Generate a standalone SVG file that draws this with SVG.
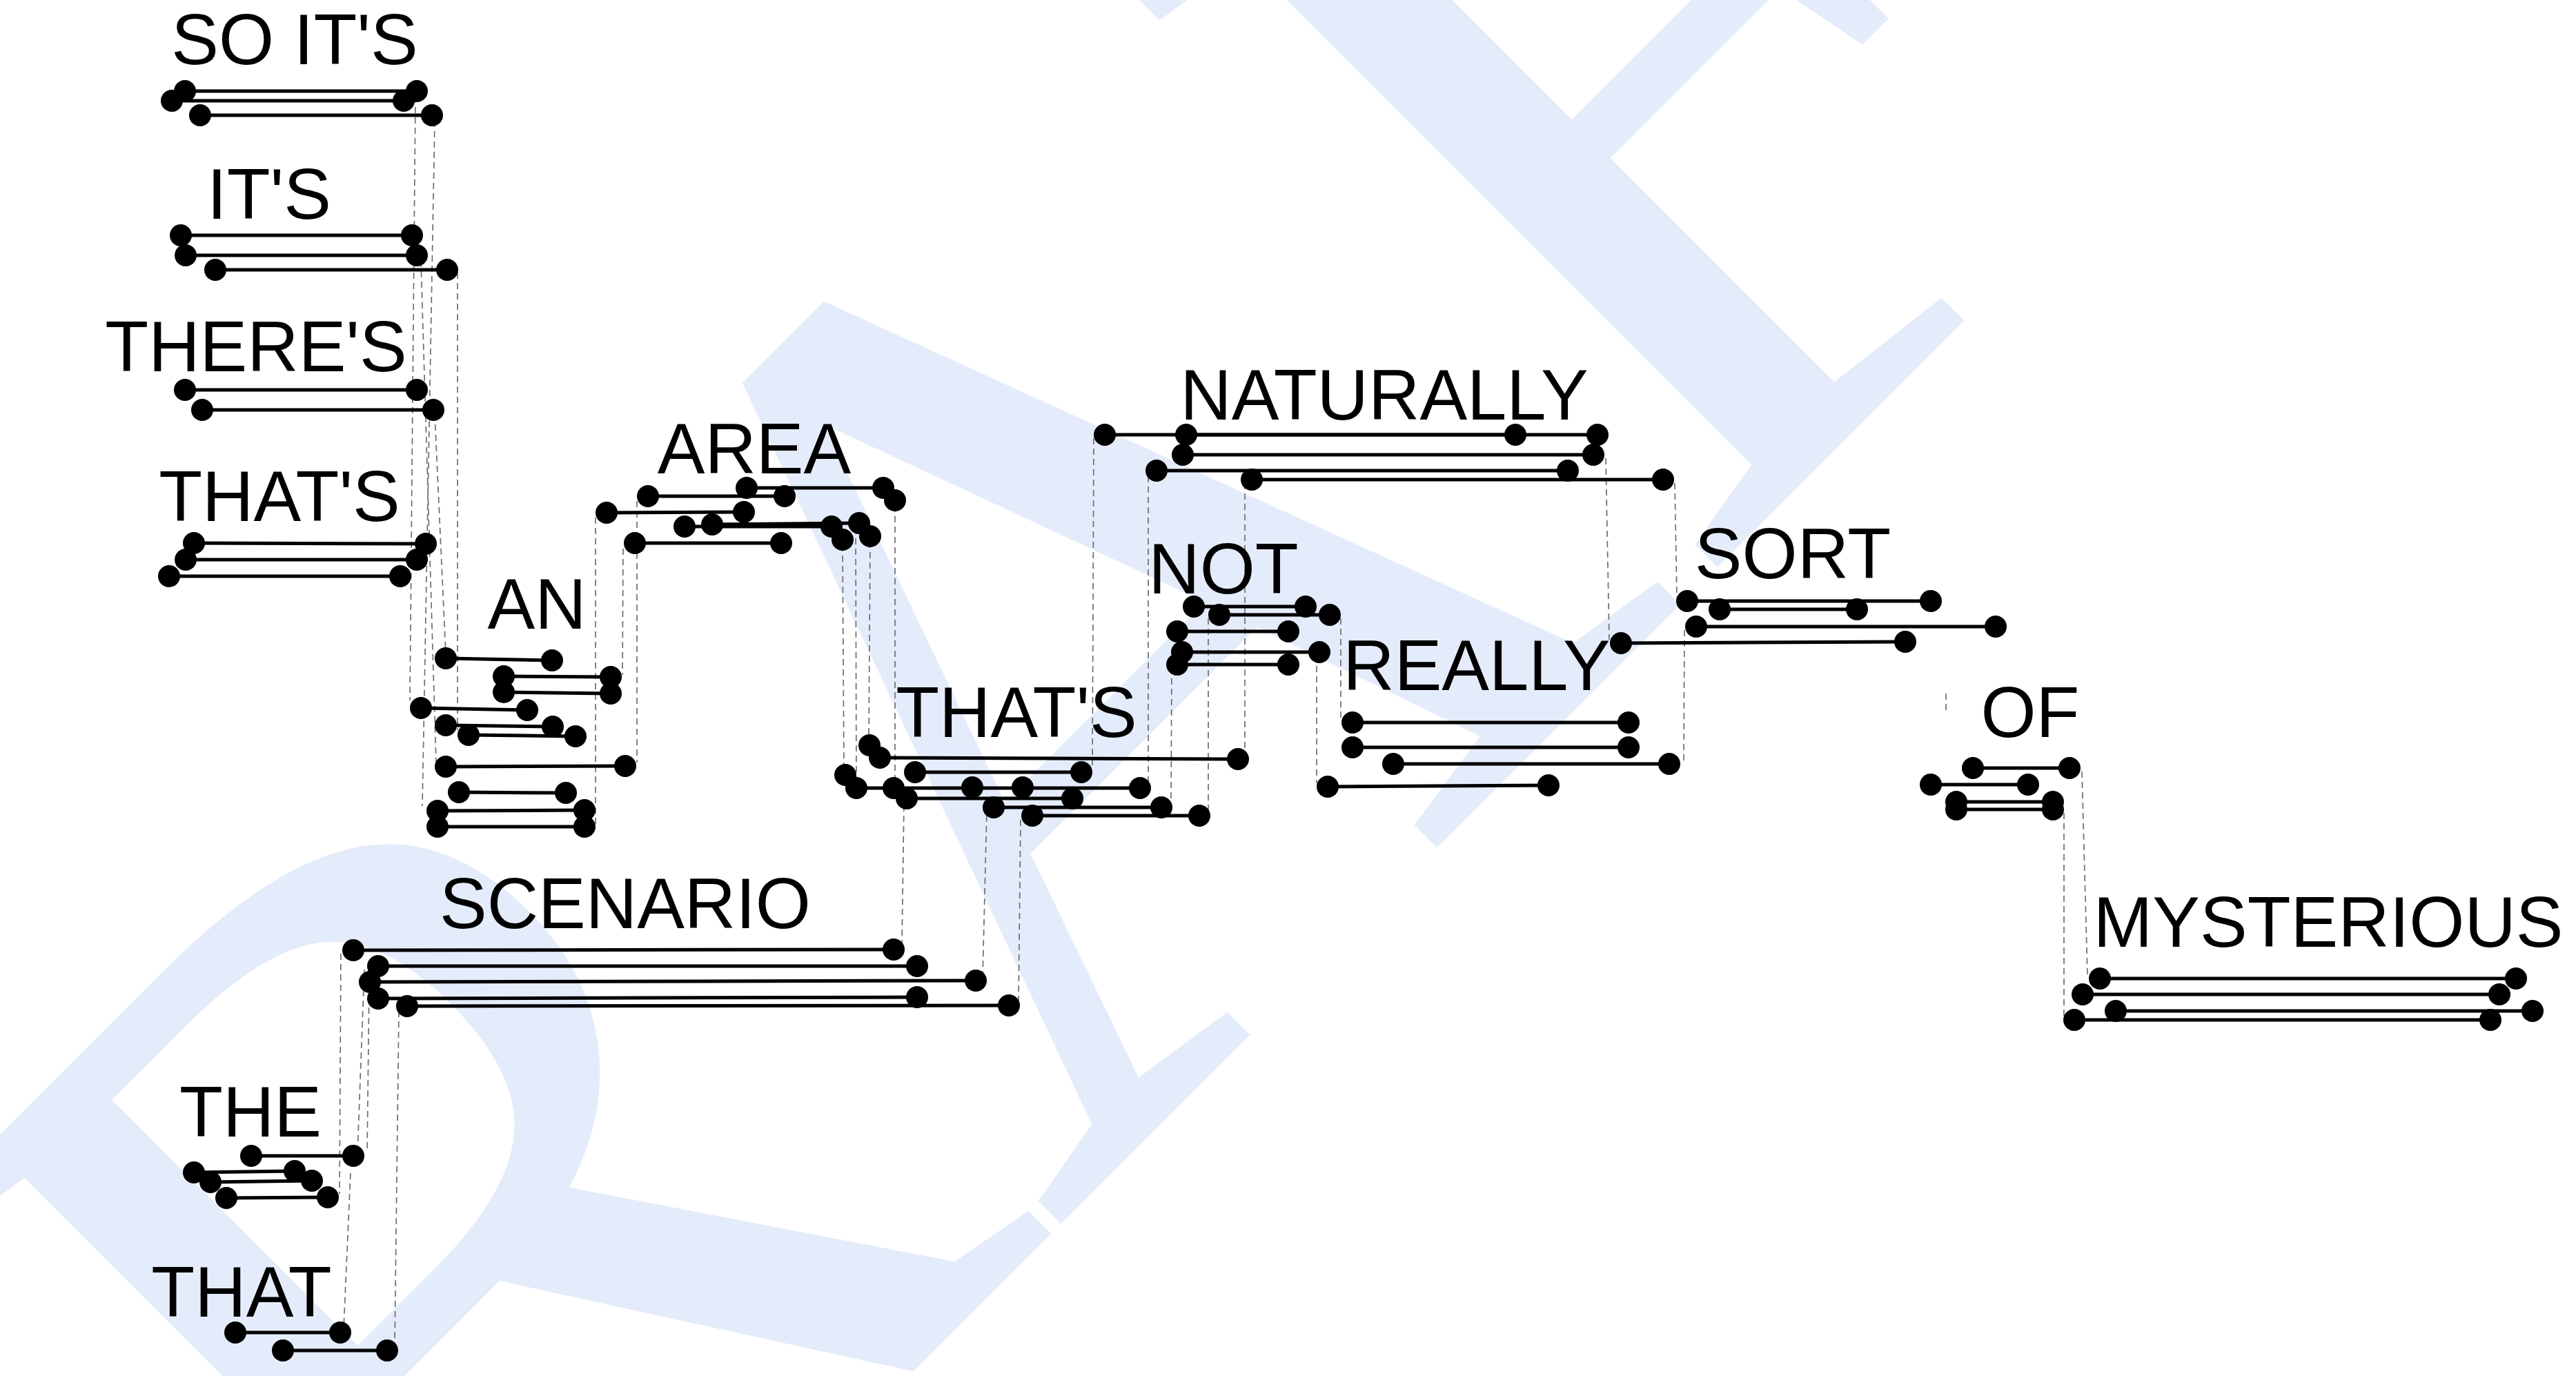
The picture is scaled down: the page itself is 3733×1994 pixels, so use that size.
<svg xmlns="http://www.w3.org/2000/svg" width="3733" height="1994" viewBox="0 0 3733 1994">
<style>
.wm{font-family:"Liberation Serif","Times New Roman",serif;font-size:1800px;fill:#e4ecfb}
.lbl{font-family:"Liberation Sans",Arial,sans-serif;font-size:103px;fill:#000;text-anchor:middle}
.bar{stroke:#000;stroke-width:5;fill:none;marker-start:url(#dot);marker-end:url(#dot)}
.pt{fill:#000}
.conn line{stroke:#6e6e6e;stroke-width:1.7;stroke-dasharray:9 6;fill:none}
</style>
<defs>
<marker id="dot" markerUnits="userSpaceOnUse" markerWidth="34" markerHeight="34" refX="17" refY="17" orient="0" overflow="visible">
<circle cx="17" cy="17" r="16" fill="#000"/>
</marker>
</defs>
<rect width="3733" height="1994" fill="#fff"/>
<text class="wm" transform="translate(-243 3554) rotate(-45)">DRAFT</text>

<g id="connectors" class="conn">
<line x1="602" y1="140" x2="594" y2="1015"/>
<line x1="630" y1="175" x2="612" y2="1168"/>
<line x1="663" y1="395" x2="663" y2="1058"/>
<line x1="610" y1="378" x2="632" y2="1105"/>
<line x1="630" y1="600" x2="646" y2="948"/>
<line x1="863" y1="750" x2="863" y2="1195"/>
<line x1="903" y1="795" x2="902" y2="978"/>
<line x1="923" y1="726" x2="923" y2="1105"/>
<line x1="1221" y1="790" x2="1223" y2="1118"/>
<line x1="1240" y1="765" x2="1241" y2="1137"/>
<line x1="1261" y1="785" x2="1259" y2="1075"/>
<line x1="1297" y1="733" x2="1297" y2="1138"/>
<line x1="1307" y1="1371" x2="1310" y2="1162"/>
<line x1="1424" y1="1416" x2="1430" y2="1175"/>
<line x1="1476" y1="1452" x2="1479" y2="1187"/>
<line x1="1585" y1="635" x2="1583" y2="1115"/>
<line x1="1664" y1="690" x2="1664" y2="1137"/>
<line x1="1804" y1="700" x2="1804" y2="1095"/>
<line x1="1698" y1="968" x2="1697" y2="1165"/>
<line x1="1751" y1="896" x2="1751" y2="1177"/>
<line x1="2327" y1="664" x2="2332" y2="927"/>
<line x1="2427" y1="700" x2="2430" y2="866"/>
<line x1="1943" y1="896" x2="1943" y2="1042"/>
<line x1="1908" y1="950" x2="1908" y2="1135"/>
<line x1="2441" y1="913" x2="2440" y2="1102"/>
<line x1="2820" y1="1005" x2="2820" y2="1035"/>
<line x1="2991" y1="1178" x2="2991" y2="1473"/>
<line x1="3017" y1="1118" x2="3025" y2="1413"/>
<line x1="494" y1="1382" x2="492" y2="1730"/>
<line x1="528" y1="1405" x2="518" y2="1672"/>
<line x1="535" y1="1430" x2="532" y2="1670"/>
<line x1="508" y1="1700" x2="498" y2="1926"/>
<line x1="578" y1="1465" x2="572" y2="1950"/>
</g>

<g id="w-so-its">
<text class="lbl" x="427" y="93">SO IT'S</text>
<line class="bar" x1="268" y1="132" x2="604" y2="132"/>
<line class="bar" x1="249" y1="146" x2="585" y2="146"/>
<line class="bar" x1="290" y1="167" x2="626" y2="167"/>
</g>
<g id="w-its">
<text class="lbl" x="390" y="317">IT'S</text>
<line class="bar" x1="262" y1="341" x2="597" y2="341"/>
<line class="bar" x1="269" y1="370" x2="604" y2="370"/>
<line class="bar" x1="312" y1="391" x2="648" y2="391"/>
</g>
<g id="w-theres">
<text class="lbl" x="371" y="538">THERE'S</text>
<line class="bar" x1="268" y1="565" x2="604" y2="565"/>
<line class="bar" x1="293" y1="594" x2="628" y2="594"/>
</g>
<g id="w-thats-1">
<text class="lbl" x="405" y="755">THAT'S</text>
<line class="bar" x1="281" y1="787" x2="617" y2="788"/>
<line class="bar" x1="269" y1="811" x2="604" y2="811"/>
<line class="bar" x1="245" y1="835" x2="580" y2="835"/>
</g>
<g id="w-an">
<text class="lbl" x="778" y="911">AN</text>
<line class="bar" x1="646" y1="954" x2="800" y2="957"/>
<line class="bar" x1="730" y1="980" x2="885" y2="981"/>
<line class="bar" x1="730" y1="1003" x2="885" y2="1005"/>
<line class="bar" x1="610" y1="1026" x2="764" y2="1029"/>
<line class="bar" x1="646" y1="1051" x2="801" y2="1053"/>
<line class="bar" x1="679" y1="1065" x2="834" y2="1067"/>
<line class="bar" x1="646" y1="1111" x2="906" y2="1110"/>
<line class="bar" x1="665" y1="1148" x2="820" y2="1149"/>
<line class="bar" x1="634" y1="1175" x2="847" y2="1174"/>
<line class="bar" x1="634" y1="1198" x2="847" y2="1198"/>
</g>
<g id="w-area">
<text class="lbl" x="1093" y="686">AREA</text>
<line class="bar" x1="1082" y1="707" x2="1280" y2="707"/>
<line class="bar" x1="939" y1="719" x2="1137" y2="719"/>
<line class="bar" x1="879" y1="743" x2="1078" y2="742"/>
<line class="bar" x1="992" y1="763" x2="1205" y2="763"/>
<line class="bar" x1="1032" y1="760" x2="1245" y2="758"/>
<line class="bar" x1="920" y1="787" x2="1132" y2="787"/>
<circle class="pt" cx="1297" cy="725" r="16"/>
<circle class="pt" cx="1221" cy="782" r="16"/>
<circle class="pt" cx="1261" cy="777" r="16"/>
</g>
<g id="w-thats-2">
<text class="lbl" x="1473" y="1068">THAT'S</text>
<circle class="pt" cx="1260" cy="1080" r="16"/>
<line class="bar" x1="1275" y1="1098" x2="1794" y2="1100"/>
<line class="bar" x1="1326" y1="1119" x2="1567" y2="1119"/>
<circle class="pt" cx="1225" cy="1123" r="16"/>
<line class="bar" x1="1241" y1="1142" x2="1652" y2="1142"/>
<circle class="pt" cx="1295" cy="1142" r="16"/>
<circle class="pt" cx="1409" cy="1141" r="16"/>
<circle class="pt" cx="1482" cy="1141" r="16"/>
<line class="bar" x1="1314" y1="1157" x2="1554" y2="1157"/>
<line class="bar" x1="1440" y1="1170" x2="1683" y2="1170"/>
<line class="bar" x1="1496" y1="1182" x2="1738" y2="1182"/>
</g>
<g id="w-scenario">
<text class="lbl" x="906" y="1345">SCENARIO</text>
<line class="bar" x1="512" y1="1377" x2="1295" y2="1376"/>
<line class="bar" x1="548" y1="1400" x2="1329" y2="1400"/>
<line class="bar" x1="536" y1="1423" x2="1414" y2="1421"/>
<line class="bar" x1="548" y1="1447" x2="1329" y2="1445"/>
<line class="bar" x1="590" y1="1458" x2="1462" y2="1457"/>
</g>
<g id="w-the">
<text class="lbl" x="363" y="1647">THE</text>
<line class="bar" x1="364" y1="1675" x2="512" y2="1675"/>
<line class="bar" x1="281" y1="1699" x2="427" y2="1697"/>
<line class="bar" x1="305" y1="1713" x2="452" y2="1711"/>
<line class="bar" x1="328" y1="1736" x2="475" y2="1735"/>
</g>
<g id="w-that">
<text class="lbl" x="350" y="1908">THAT</text>
<line class="bar" x1="341" y1="1931" x2="493" y2="1931"/>
<line class="bar" x1="410" y1="1957" x2="561" y2="1957"/>
</g>
<g id="w-naturally">
<text class="lbl" x="2006" y="608">NATURALLY</text>
<line class="bar" x1="1601" y1="630" x2="2196" y2="630"/>
<line class="bar" x1="1719" y1="630" x2="2315" y2="630"/>
<line class="bar" x1="1714" y1="659" x2="2309" y2="659"/>
<line class="bar" x1="1676" y1="682" x2="2272" y2="682"/>
<line class="bar" x1="1814" y1="695" x2="2410" y2="695"/>
</g>
<g id="w-not">
<text class="lbl" x="1773" y="860">NOT</text>
<line class="bar" x1="1730" y1="879" x2="1892" y2="879"/>
<line class="bar" x1="1767" y1="891" x2="1927" y2="891"/>
<line class="bar" x1="1706" y1="915" x2="1867" y2="915"/>
<line class="bar" x1="1713" y1="945" x2="1912" y2="945"/>
<line class="bar" x1="1706" y1="963" x2="1867" y2="963"/>
</g>
<g id="w-really">
<text class="lbl" x="2140" y="1000">REALLY</text>
<line class="bar" x1="1960" y1="1047" x2="2360" y2="1047"/>
<line class="bar" x1="1960" y1="1083" x2="2360" y2="1083"/>
<line class="bar" x1="2019" y1="1107" x2="2419" y2="1107"/>
<line class="bar" x1="1924" y1="1140" x2="2244" y2="1138"/>
</g>
<g id="w-sort">
<text class="lbl" x="2598" y="838">SORT</text>
<line class="bar" x1="2445" y1="871" x2="2798" y2="871"/>
<line class="bar" x1="2492" y1="883" x2="2691" y2="883"/>
<line class="bar" x1="2458" y1="908" x2="2892" y2="908"/>
<line class="bar" x1="2349" y1="932" x2="2761" y2="930"/>
</g>
<g id="w-of">
<text class="lbl" x="2942" y="1068">OF</text>
<line class="bar" x1="2859" y1="1113" x2="2999" y2="1113"/>
<line class="bar" x1="2798" y1="1137" x2="2939" y2="1137"/>
<line class="bar" x1="2835" y1="1162" x2="2975" y2="1162"/>
<line class="bar" x1="2835" y1="1173" x2="2975" y2="1173"/>
</g>
<g id="w-mysterious">
<text class="lbl" x="3374" y="1372">MYSTERIOUS</text>
<line class="bar" x1="3043" y1="1418" x2="3646" y2="1418"/>
<line class="bar" x1="3018" y1="1441" x2="3622" y2="1441"/>
<line class="bar" x1="3066" y1="1465" x2="3670" y2="1465"/>
<line class="bar" x1="3006" y1="1478" x2="3609" y2="1478"/>
</g>
</svg>
